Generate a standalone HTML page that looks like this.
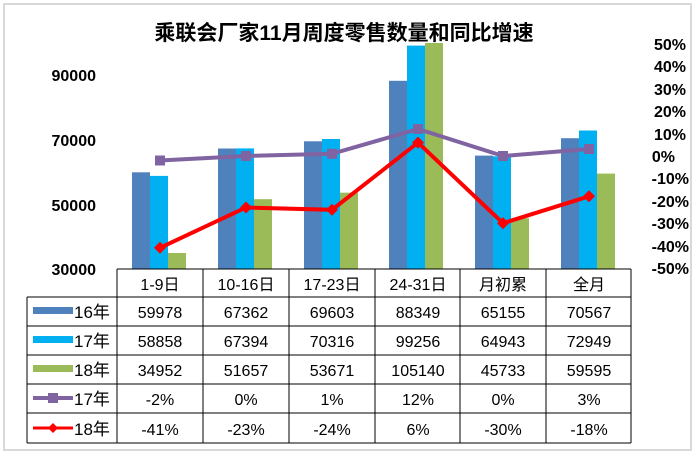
<!DOCTYPE html>
<html><head><meta charset="utf-8"><style>
body{margin:0;background:#fff;}
text{font-family:"Liberation Sans","Noto Sans CJK SC",sans-serif;}
</style></head><body>
<svg width="695" height="453" xmlns="http://www.w3.org/2000/svg">
<rect x="0" y="0" width="695" height="453" fill="#fff"/>
<rect x="4" y="4" width="687" height="446" fill="none" stroke="#d9d9d9" stroke-width="2"/>
<g>
<rect x="132" y="172.3" width="18" height="96.7" fill="#4F81BD"/><rect x="150" y="175.9" width="18" height="93.1" fill="#00B0F0"/><rect x="168" y="253" width="18" height="16" fill="#9BBB59"/>
<rect x="218" y="148.5" width="18" height="120.5" fill="#4F81BD"/><rect x="236" y="148.4" width="18" height="120.6" fill="#00B0F0"/><rect x="254" y="199.2" width="18" height="69.8" fill="#9BBB59"/>
<rect x="304" y="141.3" width="18" height="127.7" fill="#4F81BD"/><rect x="322" y="139" width="18" height="130" fill="#00B0F0"/><rect x="340" y="192.7" width="18" height="76.3" fill="#9BBB59"/>
<rect x="389" y="80.8" width="18" height="188.2" fill="#4F81BD"/><rect x="407" y="45.6" width="18" height="223.4" fill="#00B0F0"/><rect x="425" y="43" width="18" height="226" fill="#9BBB59"/>
<rect x="475" y="155.6" width="18" height="113.4" fill="#4F81BD"/><rect x="493" y="156.3" width="18" height="112.7" fill="#00B0F0"/><rect x="511" y="218.3" width="18" height="50.7" fill="#9BBB59"/>
<rect x="561" y="138.2" width="18" height="130.8" fill="#4F81BD"/><rect x="579" y="130.5" width="18" height="138.5" fill="#00B0F0"/><rect x="597" y="173.6" width="18" height="95.4" fill="#9BBB59"/>
</g>
<text x="344" y="40" text-anchor="middle" font-size="21" font-weight="bold" fill="#000">乘联会厂家11月周度零售数量和同比增速</text>
<polyline points="160,160.5 246,156 332,153.8 418,129 503,156 589,149" fill="none" stroke="#8064A2" stroke-width="4"/>
<g fill="#8064A2"><rect x="155" y="155.5" width="10" height="10"/><rect x="241" y="151" width="10" height="10"/><rect x="327" y="148.8" width="10" height="10"/><rect x="413" y="124" width="10" height="10"/><rect x="498" y="151" width="10" height="10"/><rect x="584" y="144" width="10" height="10"/></g>
<polyline points="160,247.8 246,207.5 332,209.8 418,142.6 503,223.2 589,196.3" fill="none" stroke="#FF0000" stroke-width="4"/>
<g fill="#FF0000">
<polygon points="160,241.8 166,247.8 160,253.8 154,247.8"/><polygon points="246,201.5 252,207.5 246,213.5 240,207.5"/><polygon points="332,203.8 338,209.8 332,215.8 326,209.8"/><polygon points="418,136.6 424,142.6 418,148.6 412,142.6"/><polygon points="503,217.2 509,223.2 503,229.2 497,223.2"/><polygon points="589,190.3 595,196.3 589,202.3 583,196.3"/></g>
<g font-size="16" font-weight="bold" text-anchor="end" fill="#000">
<text x="96" y="81">90000</text><text x="96" y="146">70000</text><text x="96" y="211">50000</text><text x="96" y="275">30000</text></g>
<g font-size="16" font-weight="bold" text-anchor="end" fill="#000">
<text x="686" y="50">50%</text><text x="686" y="72">40%</text><text x="686" y="95">30%</text><text x="686" y="117">20%</text><text x="686" y="140">10%</text><text x="675" y="162">0%</text><text x="689" y="184">-10%</text><text x="689" y="207">-20%</text><text x="689" y="229">-30%</text><text x="689" y="252">-40%</text><text x="689" y="274">-50%</text></g>
<g stroke="#000" stroke-width="1" fill="none">
<line x1="117" y1="269" x2="631" y2="269"/>
<line x1="27" y1="297" x2="631" y2="297"/><line x1="27" y1="326" x2="631" y2="326"/><line x1="27" y1="355" x2="631" y2="355"/><line x1="27" y1="384" x2="631" y2="384"/><line x1="27" y1="413" x2="631" y2="413"/><line x1="27" y1="443" x2="631" y2="443"/>
<line x1="27" y1="297" x2="27" y2="443"/>
<line x1="117" y1="269" x2="117" y2="443"/><line x1="203" y1="269" x2="203" y2="443"/><line x1="289" y1="269" x2="289" y2="443"/><line x1="375" y1="269" x2="375" y2="443"/><line x1="460" y1="269" x2="460" y2="443"/><line x1="546" y1="269" x2="546" y2="443"/><line x1="631" y1="269" x2="631" y2="443"/>
</g>
<rect x="33" y="307" width="40" height="7" fill="#4F81BD"/>
<rect x="33" y="336" width="40" height="7" fill="#00B0F0"/>
<rect x="33" y="365" width="40" height="7" fill="#9BBB59"/>
<line x1="33" y1="398" x2="73" y2="398" stroke="#8064A2" stroke-width="4"/><rect x="48" y="393" width="10" height="10" fill="#8064A2"/>
<line x1="33" y1="428" x2="73" y2="428" stroke="#FF0000" stroke-width="3"/><polygon points="53,423 58,428 53,433 48,428" fill="#FF0000"/>
<g font-size="17" fill="#000">
<text x="74" y="318">16年</text><text x="74" y="347">17年</text><text x="74" y="376">18年</text><text x="74" y="405">17年</text><text x="74" y="435">18年</text>
</g>
<g font-size="16" fill="#000" text-anchor="middle">
<text x="160" y="290">1-9日</text><text x="246" y="290">10-16日</text><text x="332" y="290">17-23日</text><text x="418" y="290">24-31日</text><text x="503" y="290">月初累</text><text x="589" y="290">全月</text>
<text x="160" y="318">59978</text><text x="246" y="318">67362</text><text x="332" y="318">69603</text><text x="418" y="318">88349</text><text x="503" y="318">65155</text><text x="589" y="318">70567</text>
<text x="160" y="347">58858</text><text x="246" y="347">67394</text><text x="332" y="347">70316</text><text x="418" y="347">99256</text><text x="503" y="347">64943</text><text x="589" y="347">72949</text>
<text x="160" y="376">34952</text><text x="246" y="376">51657</text><text x="332" y="376">53671</text><text x="418" y="376">105140</text><text x="503" y="376">45733</text><text x="589" y="376">59595</text>
<text x="160" y="405">-2%</text><text x="246" y="405">0%</text><text x="332" y="405">1%</text><text x="418" y="405">12%</text><text x="503" y="405">0%</text><text x="589" y="405">3%</text>
<text x="160" y="435">-41%</text><text x="246" y="435">-23%</text><text x="332" y="435">-24%</text><text x="418" y="435">6%</text><text x="503" y="435">-30%</text><text x="589" y="435">-18%</text>
</g>
</svg>
</body></html>
